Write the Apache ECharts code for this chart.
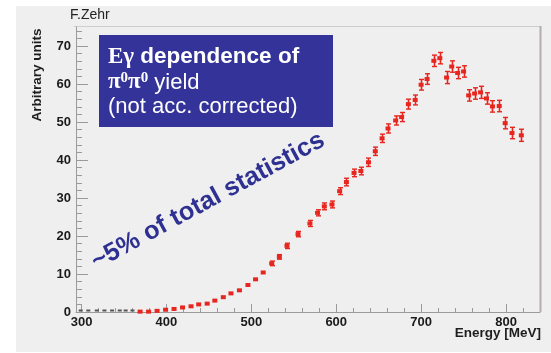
<!DOCTYPE html>
<html>
<head>
<meta charset="utf-8">
<script src="https://cdn.jsdelivr.net/npm/echarts@6/dist/echarts.min.js"></script>
<style>
  html, body { margin: 0; padding: 0; background: #ffffff; }
  #chart { width: 551px; height: 353px; }
</style>
</head>
<body>
<div id="chart"></div>
<script>
// Photon energy of each tagger bin [MeV]
const energy = [369, 379, 389, 399, 409, 419, 429, 438, 448, 457,
                467, 476, 486, 496, 505, 514, 524, 533, 542, 555,
                569, 578, 586, 595, 604, 612, 621, 629, 638, 646,
                654, 661, 670, 677, 685, 693, 700, 707, 715, 722,
                730, 736, 743, 750, 756, 763, 770, 777, 784, 792,
                799, 807, 818];
// pi0 pi0 yield (arbitrary units)
const yieldValues = [0.1, 0.1, 0.3, 0.6, 0.8, 1.2, 1.5, 2.0, 2.2, 3.0,
                     3.9, 4.9, 5.7, 7.1, 8.6, 10.4, 12.8, 14.5, 17.4, 20.5,
                     23.3, 26.1, 27.8, 28.3, 31.8, 34.2, 36.6, 37.1, 39.4, 42.3,
                     45.7, 48.3, 50.4, 51.3, 54.7, 55.8, 59.8, 61.3, 66.1, 66.8,
                     61.7, 64.6, 62.9, 63.3, 57.0, 57.5, 57.8, 56.2, 54.1, 54.2,
                     49.7, 47.1, 46.5];
// statistical errors
const yieldErrors = [0.1, 0.1, 0.1, 0.2, 0.2, 0.2, 0.2, 0.3, 0.3, 0.3,
                     0.3, 0.4, 0.4, 0.4, 0.5, 0.5, 0.6, 0.6, 0.7, 0.7,
                     0.8, 0.8, 0.9, 0.9, 0.9, 1.0, 1.0, 1.0, 1.1, 1.1,
                     1.1, 1.2, 1.2, 1.2, 1.3, 1.3, 1.4, 1.4, 1.5, 1.5,
                     1.6, 1.5, 1.5, 1.5, 1.5, 1.5, 1.6, 1.5, 1.5, 1.5,
                     1.5, 1.5, 1.6];
// empty bins below threshold
const emptyEnergy = [299, 308, 318, 327, 336, 345, 352, 360];
const emptyValues = [0, 0, 0, 0, 0, 0, 0, 0];

// axis ticks
const xMajorTicks = [300, 400, 500, 600, 700, 800];
const xMinorTicks = [300, 320, 340, 360, 380, 400, 420, 440, 460, 480, 500, 520, 540, 560,
                     580, 600, 620, 640, 660, 680, 700, 720, 740, 760, 780, 800, 820];
const yMajorTicks = [0, 10, 20, 30, 40, 50, 60, 70];
const yMinorTicks = [0, 2, 4, 6, 8, 10, 12, 14, 16, 18, 20, 22, 24, 26, 28, 30, 32, 34, 36, 38,
                     40, 42, 44, 46, 48, 50, 52, 54, 56, 58, 60, 62, 64, 66, 68, 70, 72, 74];

const X_MIN = 293.5, X_MAX = 840, Y_MIN = 0, Y_MAX = 75;
const RED = '#e6261f';
const AXIS_GREY = '#9a9a9a';
const LABEL_FONT = { fontFamily: 'Liberation Sans, Arial, sans-serif', fontWeight: 'bold', fontSize: 13, color: '#1a1a1a' };

const pointData = energy.map((e, i) => [e, yieldValues[i], yieldErrors[i]]);
const emptyData = emptyEnergy.map((e, i) => [e, emptyValues[i]]);

function renderErrorPoint(params, api) {
  const x = api.value(0), y = api.value(1), err = api.value(2);
  const c = api.coord([x, y]);
  const hi = api.coord([x, y + err]);
  const lo = api.coord([x, y - err]);
  const children = [];
  if (c[1] - hi[1] > 2) {
    const cx = Math.round(c[0]) + 0.5;
    children.push({ type: 'line', shape: { x1: cx, y1: hi[1], x2: cx, y2: lo[1] }, style: { stroke: RED, lineWidth: 1.6 } });
    children.push({ type: 'line', shape: { x1: cx - 2.5, y1: hi[1], x2: cx + 2.5, y2: hi[1] }, style: { stroke: RED, lineWidth: 1.4 } });
    children.push({ type: 'line', shape: { x1: cx - 2.5, y1: lo[1], x2: cx + 2.5, y2: lo[1] }, style: { stroke: RED, lineWidth: 1.4 } });
  }
  children.push({ type: 'rect', shape: { x: c[0] - 2.5, y: c[1] - 2, width: 5, height: 4 }, style: { fill: RED } });
  return { type: 'group', children };
}

function renderEmpty(params, api) {
  const c = api.coord([api.value(0), api.value(1)]);
  return { type: 'rect', shape: { x: c[0] - 2, y: c[1] - 2.5, width: 4, height: 2 }, style: { fill: '#555555' } };
}

const chart = echarts.init(document.getElementById('chart'), null, { renderer: 'canvas' });

const grid = { left: 76, top: 27, width: 464, height: 285 };

chart.setOption({
  backgroundColor: '#efefef',
  animation: false,
  grid: grid,
  xAxis: [
    {
      type: 'value', min: X_MIN, max: X_MAX, position: 'bottom',
      axisLine: { show: true, lineStyle: { color: AXIS_GREY, width: 1 } },
      axisTick: { show: true, inside: true, length: 8, customValues: xMajorTicks, lineStyle: { color: AXIS_GREY } },
      axisLabel: Object.assign({ show: true, margin: 4, customValues: xMajorTicks }, LABEL_FONT),
      splitLine: { show: false }
    },
    {
      type: 'value', min: X_MIN, max: X_MAX, position: 'bottom', offset: 0,
      axisLine: { show: false },
      axisTick: { show: true, inside: true, length: 4, customValues: xMinorTicks, lineStyle: { color: AXIS_GREY } },
      axisLabel: { show: false },
      splitLine: { show: false }
    }
  ],
  yAxis: [
    {
      type: 'value', min: Y_MIN, max: Y_MAX, position: 'left',
      axisLine: { show: true, lineStyle: { color: AXIS_GREY, width: 1 } },
      axisTick: { show: true, inside: true, length: 12, customValues: yMajorTicks, lineStyle: { color: AXIS_GREY } },
      axisLabel: Object.assign({ show: true, margin: 5, customValues: yMajorTicks }, LABEL_FONT),
      splitLine: { show: false }
    },
    {
      type: 'value', min: Y_MIN, max: Y_MAX, position: 'left', offset: 0,
      axisLine: { show: false },
      axisTick: { show: true, inside: true, length: 6, customValues: yMinorTicks, lineStyle: { color: AXIS_GREY } },
      axisLabel: { show: false },
      splitLine: { show: false }
    }
  ],
  graphic: [
    // white margins of the canvas
    { type: 'rect', left: 0, top: 0, shape: { width: 16, height: 353 }, style: { fill: '#ffffff' }, silent: true },
    { type: 'rect', left: 0, top: 0, shape: { width: 551, height: 6 }, style: { fill: '#ffffff' }, silent: true },
    { type: 'rect', left: 0, top: 352, shape: { width: 551, height: 1 }, style: { fill: '#ffffff' }, silent: true },
    // frame top and right edges
    { type: 'line', shape: { x1: 74, y1: 26.5, x2: 541, y2: 26.5 }, style: { stroke: '#cdcdcd', lineWidth: 1 }, silent: true },
    { type: 'line', shape: { x1: 540.5, y1: 26, x2: 540.5, y2: 312 }, style: { stroke: '#b4adad', lineWidth: 2 }, silent: true },
    // author tag
    { type: 'text', x: 70, y: 15, style: { text: 'F.Zehr', fontFamily: 'Liberation Sans, Arial, sans-serif', fontSize: 14, fill: '#222222', textVerticalAlign: 'middle' }, silent: true },
    // axis titles
    { type: 'text', x: 541, y: 333, style: { text: 'Energy [MeV]', fontFamily: 'Liberation Sans, Arial, sans-serif', fontWeight: 'bold', fontSize: 13.5, fill: '#1e1e1e', textAlign: 'right', textVerticalAlign: 'middle' }, silent: true },
    { type: 'text', x: 37, y: 75, rotation: Math.PI / 2, style: { text: 'Arbitrary units', fontFamily: 'Liberation Sans, Arial, sans-serif', fontWeight: 'bold', fontSize: 13.5, fill: '#1e1e1e', textAlign: 'center', textVerticalAlign: 'middle' }, silent: true },
    // info box
    { type: 'rect', shape: { x: 99, y: 35, width: 234, height: 92 }, style: { fill: '#333399' }, silent: true },
    {
      type: 'text', x: 108, y: 57,
      style: {
        text: '{g|Eγ}{b| dependence of}',
        textVerticalAlign: 'middle',
        rich: {
          g: { fontFamily: 'Liberation Serif, Times New Roman, serif', fontWeight: 'bold', fontSize: 23, fill: '#ffffff' },
          b: { fontFamily: 'Liberation Sans, Arial, sans-serif', fontWeight: 'bold', fontSize: 22.5, fill: '#ffffff' }
        }
      }, silent: true
    },
    {
      type: 'text', x: 108, y: 82.5,
      style: {
        text: '{p|π}{s|0}{p|π}{s|0}{r| yield}',
        textVerticalAlign: 'middle',
        rich: {
          p: { fontFamily: 'Liberation Serif, Times New Roman, serif', fontWeight: 'bold', fontSize: 23, fill: '#ffffff' },
          s: { fontFamily: 'Liberation Serif, Times New Roman, serif', fontWeight: 'bold', fontSize: 15, fill: '#ffffff', verticalAlign: 'top' },
          r: { fontFamily: 'Liberation Sans, Arial, sans-serif', fontSize: 22, fill: '#ffffff' }
        }
      }, silent: true
    },
    { type: 'text', x: 108, y: 106.5, style: { text: '(not acc. corrected)', fontFamily: 'Liberation Sans, Arial, sans-serif', fontSize: 22, fill: '#ffffff', textVerticalAlign: 'middle' }, silent: true },
    // statistics note
    { type: 'text', x: 208, y: 201, rotation: 28.5 * Math.PI / 180, style: { text: '~5% of total statistics', fontFamily: 'Liberation Sans, Arial, sans-serif', fontWeight: 'bold', fontSize: 25.5, fill: '#2e3192', textAlign: 'center', textVerticalAlign: 'middle' }, silent: true }
  ],
  series: [
    {
      name: 'empty bins', type: 'custom', xAxisIndex: 0, yAxisIndex: 0,
      renderItem: renderEmpty, data: emptyData, clip: false, z: 3
    },
    {
      name: 'yield', type: 'custom', xAxisIndex: 0, yAxisIndex: 0,
      renderItem: renderErrorPoint, encode: { x: 0, y: 1 }, data: pointData, clip: false, z: 4
    }
  ]
});
</script>
</body>
</html>
